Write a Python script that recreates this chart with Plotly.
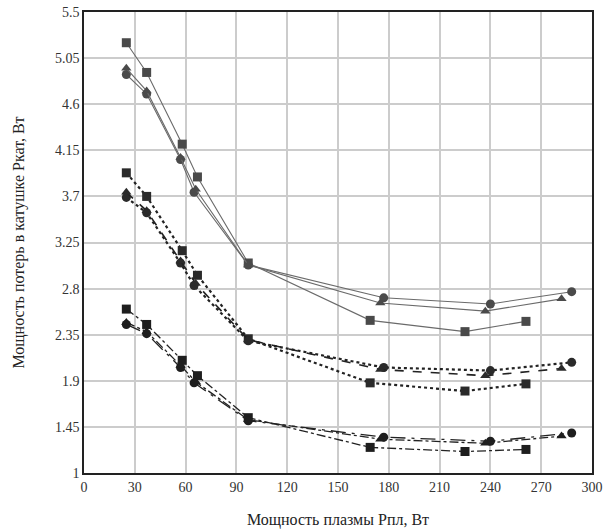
import plotly.graph_objects as go

# Solid group
solid_sq_x = [25, 37, 58, 67, 97, 169, 225, 261]
solid_sq_y = [5.20, 4.91, 4.21, 3.89, 3.05, 2.49, 2.38, 2.48]
solid_ci_x = [25, 37, 57, 65, 97, 177, 240, 288]
solid_ci_y = [4.89, 4.70, 4.06, 3.74, 3.03, 2.71, 2.65, 2.77]
solid_tr_x = [25, 37, 57, 66, 97, 175, 237, 282]
solid_tr_y = [4.95, 4.73, 4.08, 3.77, 3.03, 2.66, 2.58, 2.70]

# Dotted group
dot_sq_x = [25, 37, 58, 67, 97, 169, 225, 261]
dot_sq_y = [3.93, 3.70, 3.17, 2.93, 2.31, 1.88, 1.80, 1.87]
dot_ci_x = [25, 37, 57, 65, 97, 177, 240, 288]
dot_ci_y = [3.69, 3.54, 3.05, 2.83, 2.29, 2.03, 2.00, 2.08]
dot_tr_x = [25, 37, 57, 66, 97, 175, 237, 282]
dot_tr_y = [3.74, 3.56, 3.07, 2.85, 2.30, 2.01, 1.95, 2.02]

# Dash-dot group
dd_sq_x = [25, 37, 58, 67, 97, 169, 225, 261]
dd_sq_y = [2.60, 2.45, 2.10, 1.95, 1.54, 1.25, 1.21, 1.23]
dd_ci_x = [25, 37, 57, 65, 97, 177, 240, 288]
dd_ci_y = [2.45, 2.36, 2.03, 1.88, 1.51, 1.35, 1.31, 1.39]
dd_tr_x = [25, 37, 57, 66, 97, 175, 237, 282]
dd_tr_y = [2.47, 2.38, 2.05, 1.89, 1.52, 1.33, 1.29, 1.36]

x_ticks = [0, 30, 60, 90, 120, 150, 180, 210, 240, 270, 300]
y_ticks = [1, 1.45, 1.9, 2.35, 2.8, 3.25, 3.7, 4.15, 4.6, 5.05, 5.5]
y_tick_labels = ["1", "1.45", "1.9", "2.35", "2.8", "3.25", "3.7", "4.15", "4.6", "5.05", "5.5"]

fig = go.Figure()

series = [
    (solid_sq_x, solid_sq_y, "square", "solid", "#6a6a6a", "#4a4a4a", 1.1, 9),
    (solid_ci_x, solid_ci_y, "circle", "solid", "#6a6a6a", "#4a4a4a", 1.1, 9),
    (solid_tr_x, solid_tr_y, "triangle-up", "solid", "#6a6a6a", "#4a4a4a", 1.1, 9),
    (dot_sq_x, dot_sq_y, "square", "dot", "#222222", "#2a2a2a", 2.2, 9),
    (dot_ci_x, dot_ci_y, "circle", "dot", "#222222", "#2a2a2a", 2.2, 9),
    (dot_tr_x, dot_tr_y, "triangle-up", "dash", "#222222", "#2a2a2a", 1.6, 9),
    (dd_sq_x, dd_sq_y, "square", "dashdot", "#222222", "#1e1e1e", 1.3, 9),
    (dd_ci_x, dd_ci_y, "circle", "longdashdot", "#222222", "#1e1e1e", 1.3, 9),
    (dd_tr_x, dd_tr_y, "triangle-up", "dashdot", "#222222", "#1e1e1e", 1.3, 9),
]

for xs, ys, sym, dash, lc, mc, lw, ms in series:
    fig.add_trace(go.Scatter(
        x=xs, y=ys, mode="lines+markers",
        line=dict(color=lc, width=lw, dash=dash),
        marker=dict(symbol=sym, size=ms, color=mc),
        showlegend=False,
    ))

font_family = "Liberation Serif, Times New Roman, serif"

fig.update_layout(
    width=611, height=531,
    margin=dict(l=84, r=19, t=12, b=58),
    plot_bgcolor="white", paper_bgcolor="white",
    font=dict(family=font_family, size=14, color="#333333"),
)
fig.update_xaxes(
    range=[0, 300], tickvals=x_ticks, ticks="", automargin=False,
    showgrid=True, gridcolor="#cccccc", gridwidth=1.5,
    showline=True, linecolor="#222222", linewidth=1.5, mirror=True,
    zeroline=False,
    title=dict(text="Мощность плазмы Рпл, Вт", font=dict(size=16, family=font_family, color="#222222"), standoff=20),
    tickfont=dict(size=14, family=font_family, color="#333333"),
)
fig.update_yaxes(
    range=[1, 5.5], tickvals=y_ticks, ticktext=y_tick_labels, ticks="", automargin=False,
    showgrid=True, gridcolor="#cccccc", gridwidth=1.5,
    showline=True, linecolor="#222222", linewidth=1.5, mirror=True,
    zeroline=False,
    title=dict(text="Мощность потерь в катушке Ркат, Вт", font=dict(size=16, family=font_family, color="#222222"), standoff=26),
    tickfont=dict(size=14, family=font_family, color="#333333"),
)

fig.write_html("out.html")
